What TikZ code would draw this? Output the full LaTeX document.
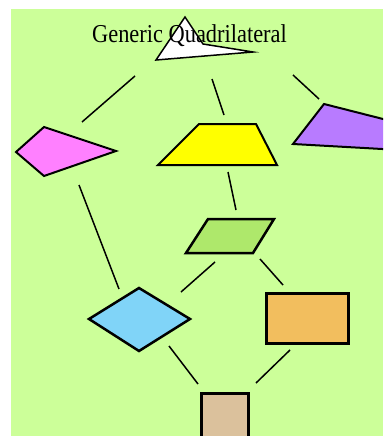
\documentclass[tikz,border=0pt]{standalone}
\usepackage{fontspec}
\setmainfont{Liberation Serif}
\usepackage{xcolor}
\definecolor{bggreen}{RGB}{204, 255, 153}
\definecolor{quadpink}{RGB}{255, 128, 255}
\definecolor{quadyellow}{RGB}{255, 255, 0}
\definecolor{quadpurple}{RGB}{184, 123, 255}
\definecolor{quadgreen}{RGB}{174, 232, 107}
\definecolor{quadblue}{RGB}{128, 212, 248}
\definecolor{quadorange}{RGB}{242, 190, 94}
\definecolor{quadtan}{RGB}{219, 193, 156}
\tikzset{
    quad/.style={draw=black, line width=2pt, line join=miter},
    link/.style={draw=black, line width=1.5pt}
}

\begin{document}
\begin{tikzpicture}[x=1pt, y=-1pt]
    \path[use as bounding box] (0, 0) rectangle (383, 436);
    \fill[bggreen] (11, 9) rectangle (383, 436);

    \begin{scope}
        \clip (11, 9) rectangle (383, 436);

        % Generic quadrilateral (top)
        \draw[quad, fill=white, line width=1.5pt]
            (185, 17) -- (203, 44) -- (253, 52) -- (156, 60) -- cycle;
        \node[anchor=base, inner sep=0pt, font=\fontsize{22.4}{26}\selectfont] (title) at (189.5, 43)
            {\scalebox{1}[1.15]{Generic Quadrilateral}};

        % Second row: kite, trapezoid, clipped purple one
        \draw[quad, fill=quadpink] (44, 127) -- (116, 151) -- (44, 176) -- (16, 152) -- cycle;
        \draw[quad, fill=quadyellow] (199, 124) -- (256, 124) -- (277, 165) -- (158, 165) -- cycle;
        \draw[quad, fill=quadpurple] (324, 104) -- (400, 123.3) -- (400, 150) -- (293, 144) -- cycle;

        % Parallelogram
        \draw[quad, line width=2.5pt, fill=quadgreen] (208, 219) -- (274, 219) -- (253, 253) -- (186, 253) -- cycle;

        % Rhombus and rectangle
        \draw[quad, line width=2.5pt, fill=quadblue] (139, 288) -- (190, 319) -- (139, 351) -- (89, 319) -- cycle;
        \draw[quad, line width=3pt, fill=quadorange] (266, 293) rectangle (348, 343);

        % Square (bottom)
        \draw[quad, line width=3pt, fill=quadtan] (201, 393) rectangle (248, 450);

        % Connector ends
        \coordinate (gq-l) at (135, 76);  \coordinate (kite-t) at (82, 122);
        \coordinate (gq-m) at (212, 79);  \coordinate (trap-t) at (224, 115);
        \coordinate (gq-r) at (293, 75);  \coordinate (purp-t) at (319, 99);
        \coordinate (trap-b) at (228, 172); \coordinate (para-t) at (236, 210);
        \coordinate (kite-b) at (79, 185); \coordinate (rhom-t) at (119, 289);
        \coordinate (para-l) at (215, 262); \coordinate (rhom-r) at (181, 292);
        \coordinate (para-r) at (260, 259); \coordinate (rect-t) at (283, 285);
        \coordinate (rhom-b) at (169, 346); \coordinate (sq-l) at (198, 384);
        \coordinate (rect-b) at (290, 350); \coordinate (sq-r) at (256, 383);

        \foreach \a/\b in {gq-l/kite-t, gq-m/trap-t, gq-r/purp-t, trap-b/para-t,
                kite-b/rhom-t, para-l/rhom-r, para-r/rect-t, rhom-b/sq-l, rect-b/sq-r} {
            \draw[link] (\a) -- (\b);
        }
    \end{scope}
\end{tikzpicture}
\end{document}
